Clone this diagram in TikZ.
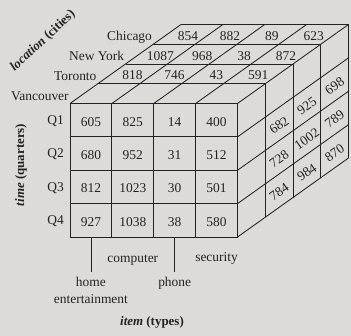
\documentclass[tikz,border=0pt]{standalone}
\usepackage{fontspec}
\setmainfont{Liberation Serif}
\definecolor{paper}{HTML}{DCDBD7}
\definecolor{ink}{HTML}{222222}
\tikzset{
  edge/.style={draw=ink, line width=0.85bp},
  lbl/.style={text=ink, font=\fontsize{13.5}{17}\selectfont, inner sep=0pt},
  val/.style={lbl},
  sideval/.style={lbl, rotate=35},
  axislbl/.style={text=ink, font=\fontsize{13}{17}\selectfont, inner sep=0pt},
}
\begin{document}
\begin{tikzpicture}[x=1bp,y=-1bp]
% cube geometry: front face origin, cell size, depth step per city slab
\def\X{70}\def\Y{103.5}
\def\W{41.875}\def\H{33.375}
\def\dx{27.75}\def\dy{19.75}
\fill[paper] (0,0) rectangle (351,336);
\useasboundingbox (0,0) rectangle (351,336);

% front face (Vancouver)
\foreach \i in {0,...,4}
  \draw[edge] (\X+\i*\W,\Y) -- (\X+\i*\W,\Y+4*\H);
\foreach \j in {0,...,4}
  \draw[edge] (\X,\Y+\j*\H) -- (\X+4*\W,\Y+\j*\H);

% top face
\foreach \k in {1,...,4}
  \draw[edge] (\X+\k*\dx,\Y-\k*\dy) -- (\X+4*\W+\k*\dx,\Y-\k*\dy);
\foreach \i in {0,...,4}
  \draw[edge] (\X+\i*\W,\Y) -- ++(4*\dx,-4*\dy);

% right face
\foreach \k in {1,...,4}
  \draw[edge] (\X+4*\W+\k*\dx,\Y-\k*\dy) -- (\X+4*\W+\k*\dx,\Y+4*\H-\k*\dy);
\foreach \j in {1,...,4}
  \draw[edge] (\X+4*\W,\Y+\j*\H) -- ++(4*\dx,-4*\dy);

% values on the front face
\foreach \row [count=\j from 0] in {{605,825,14,400},{680,952,31,512},{812,1023,30,501},{927,1038,38,580}} {
  \foreach \v [count=\i from 0] in \row
    \node[val] (f-\j-\i) at (\X+\i*\W+0.5*\W,\Y+\j*\H+0.5*\H+1.5) {\v};
}

% Q1 values of the back slabs, on the top face
\foreach \row [count=\k from 2] in {{818,746,43,591},{1087,968,38,872},{854,882,89,623}} {
  \foreach \v [count=\i from 0] in \row
    \node[val] (t-\k-\i) at (\X+\i*\W+0.5*\W+\k*\dx-0.5*\dx,\Y-\k*\dy+0.5*\dy+1.5) {\v};
}

% security values of the back slabs, on the right face
\foreach \col [count=\k from 2] in {{682,728,784},{925,1002,984},{698,789,870}} {
  \foreach \v [count=\j from 1] in \col
    \node[sideval] (s-\k-\j) at (\X+4*\W+\k*\dx-0.5*\dx,\Y+\j*\H+0.5*\H-\k*\dy+0.5*\dy+1.5) {\v};
}

% city labels
\foreach \c [count=\k from 1] in {Vancouver,Toronto,New York,Chicago}
  \node[lbl, anchor=base east] (city-\k) at (\X+\k*\dx-0.5*\dx-15,\Y-\k*\dy+\dy-3.5) {\c};

% quarter labels
\foreach \q [count=\j from 0] in {Q1,Q2,Q3,Q4}
  \node[lbl, anchor=east] (q-\j) at (64,\Y+\j*\H+0.5*\H+1) {\q};

% item labels
\coordinate (he) at (\X+0.5*\W,\Y+4*\H);
\coordinate (ph) at (\X+2.5*\W,\Y+4*\H);
\coordinate (he-end) at (\X+0.5*\W,272);
\coordinate (ph-end) at (\X+2.5*\W,272);
\draw[edge] (he) -- (he-end);
\draw[edge] (ph) -- (ph-end);
\node[lbl, anchor=base] (computer) at (\X+1.5*\W,262) {computer};
\node[lbl, anchor=base] (security) at (\X+3.5*\W,261) {security};
\node[lbl, anchor=base] (home) at (\X+0.5*\W,286) {home};
\node[lbl, anchor=base] (entert) at (\X+0.5*\W,303) {entertainment};
\node[lbl, anchor=base] (phone) at (\X+2.5*\W,286) {phone};

% dimension names
\node[axislbl] (item) at (152,322) {\textbf{\textit{item}} \textbf{(types)}};
\node[axislbl, rotate=90] (time) at (21,165) {\textbf{\textit{time}} \textbf{(quarters)}};
\node[axislbl, rotate=43] (loc) at (43,41) {\textbf{\textit{location}} \textbf{(cities)}};
\end{tikzpicture}
\end{document}
